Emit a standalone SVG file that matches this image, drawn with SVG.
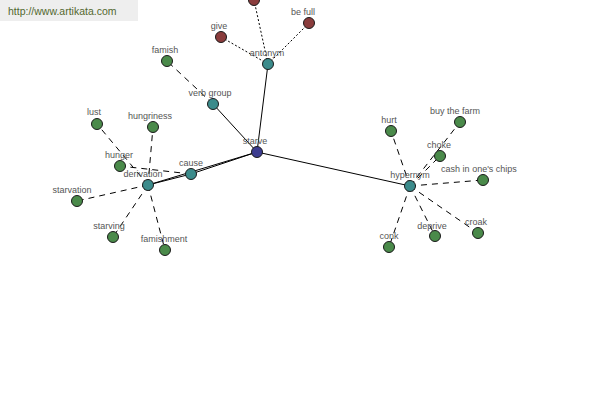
<svg xmlns="http://www.w3.org/2000/svg" width="600" height="400" viewBox="0 0 600 400">
<style>
.e{stroke:#000;stroke-width:1;fill:none}
.d{stroke-dasharray:6,5}
.o{stroke-dasharray:2,2}
.n{stroke:#1a1a1a;stroke-width:1}
.g{fill:#4a8a4a}
.t{fill:#3b8b8b}
.r{fill:#8a3c3c}
.b{fill:#3c3c90}
text{font-family:"Liberation Sans",Arial,sans-serif;font-size:9px;fill:#555;text-anchor:middle}
</style>
<rect x="0" y="0" width="138" height="21" fill="#eeeeee"/>
<text x="8" y="15" style="font-size:10.5px;fill:#53682f;text-anchor:start">http://www.artikata.com</text>
<g id="connectors">
<line class="e" x1="257" y1="152" x2="268" y2="64"/>
<line class="e" x1="257" y1="152" x2="213" y2="104"/>
<line class="e" x1="257" y1="152" x2="191" y2="174"/>
<line class="e" x1="257" y1="152" x2="148" y2="185"/>
<line class="e" x1="191" y1="174" x2="148" y2="185"/>
<line class="e" x1="257" y1="152" x2="410" y2="186"/>
<line class="e o" x1="268" y1="64" x2="254" y2="0"/>
<line class="e o" x1="268" y1="64" x2="221" y2="37"/>
<line class="e o" x1="268" y1="64" x2="309" y2="23"/>
<line class="e d" x1="213" y1="104" x2="167" y2="61"/>
<line class="e d" x1="191" y1="174" x2="120" y2="166"/>
<line class="e d" x1="148" y1="185" x2="97" y2="124"/>
<line class="e d" x1="148" y1="185" x2="153" y2="127"/>
<line class="e d" x1="148" y1="185" x2="77" y2="201"/>
<line class="e d" x1="148" y1="185" x2="113" y2="237"/>
<line class="e d" x1="148" y1="185" x2="165" y2="250"/>
<line class="e d" x1="410" y1="186" x2="391" y2="131"/>
<line class="e d" x1="410" y1="186" x2="460" y2="122"/>
<line class="e d" x1="410" y1="186" x2="440" y2="156"/>
<line class="e d" x1="410" y1="186" x2="483" y2="180"/>
<line class="e d" x1="410" y1="186" x2="389" y2="247"/>
<line class="e d" x1="410" y1="186" x2="435" y2="236"/>
<line class="e d" x1="410" y1="186" x2="478" y2="233"/>
</g>
<g id="top"><circle class="n r" cx="254" cy="0" r="5.5"/></g>
<g id="antonym"><circle class="n t" cx="268" cy="64" r="5.5"/><text x="267" y="56">antonym</text></g>
<g id="give"><circle class="n r" cx="221" cy="37" r="5.5"/><text x="219" y="29">give</text></g>
<g id="befull"><circle class="n r" cx="309" cy="23" r="5.5"/><text x="303" y="15">be full</text></g>
<g id="famish"><circle class="n g" cx="167" cy="61" r="5.5"/><text x="165" y="53">famish</text></g>
<g id="verbgroup"><circle class="n t" cx="213" cy="104" r="5.5"/><text x="210" y="96">verb group</text></g>
<g id="lust"><circle class="n g" cx="97" cy="124" r="5.5"/><text x="94" y="115">lust</text></g>
<g id="hungriness"><circle class="n g" cx="153" cy="127" r="5.5"/><text x="150" y="119">hungriness</text></g>
<g id="hunger"><circle class="n g" cx="120" cy="166" r="5.5"/><text x="119" y="158">hunger</text></g>
<g id="cause"><circle class="n t" cx="191" cy="174" r="5.5"/><text x="191" y="166">cause</text></g>
<g id="derivation"><circle class="n t" cx="148" cy="185" r="5.5"/><text x="143" y="177">derivation</text></g>
<g id="starvation"><circle class="n g" cx="77" cy="201" r="5.5"/><text x="72" y="193">starvation</text></g>
<g id="starving"><circle class="n g" cx="113" cy="237" r="5.5"/><text x="109" y="229">starving</text></g>
<g id="famishment"><circle class="n g" cx="165" cy="250" r="5.5"/><text x="164" y="242">famishment</text></g>
<g id="starve"><circle class="n b" cx="257" cy="152" r="5.5"/><text x="255" y="144">starve</text></g>
<g id="hypernym"><circle class="n t" cx="410" cy="186" r="5.5"/><text x="410" y="178">hypernym</text></g>
<g id="hurt"><circle class="n g" cx="391" cy="131" r="5.5"/><text x="389" y="123">hurt</text></g>
<g id="buythefarm"><circle class="n g" cx="460" cy="122" r="5.5"/><text x="455" y="114">buy the farm</text></g>
<g id="choke"><circle class="n g" cx="440" cy="156" r="5.5"/><text x="439" y="148">choke</text></g>
<g id="cashin"><circle class="n g" cx="483" cy="180" r="5.5"/><text x="479" y="172">cash in one's chips</text></g>
<g id="conk"><circle class="n g" cx="389" cy="247" r="5.5"/><text x="389" y="239">conk</text></g>
<g id="deprive"><circle class="n g" cx="435" cy="236" r="5.5"/><text x="432" y="229">deprive</text></g>
<g id="croak"><circle class="n g" cx="478" cy="233" r="5.5"/><text x="476" y="225">croak</text></g>
</svg>
